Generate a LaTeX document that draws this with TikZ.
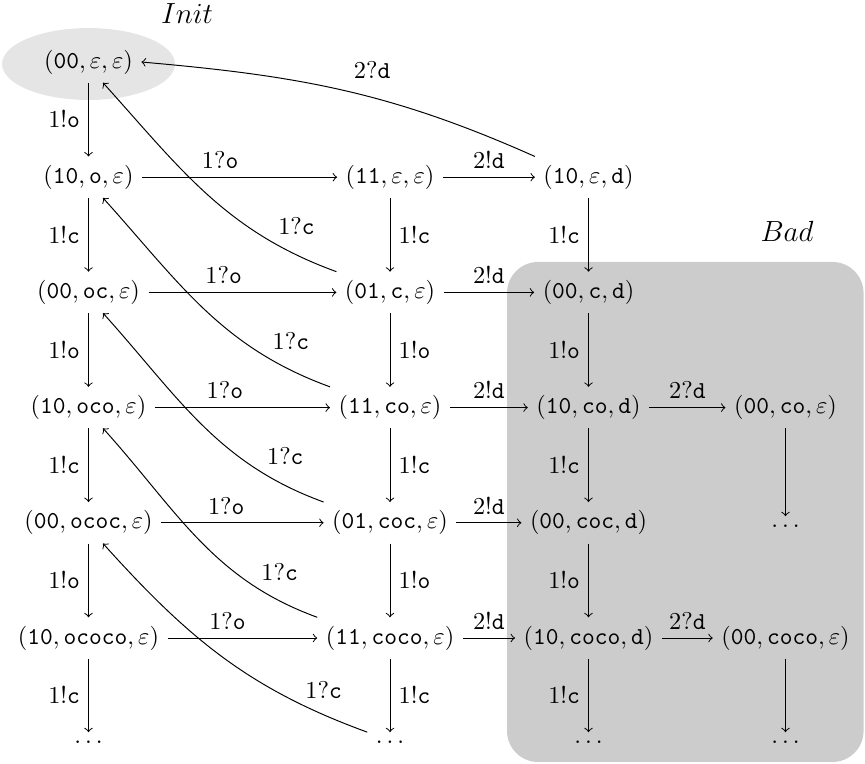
\documentclass[tikz,border=0pt]{standalone}
\usepackage{amsmath}
\usepackage{tikz}

\begin{document}
\begin{tikzpicture}

\useasboundingbox (0,0) rectangle (12.511,11.050);

% Draw Init and Bad regions

\fill[black!10] (1.280,10.124) ellipse (1.25 and 0.52);

\fill[black!20, rounded corners=0.45cm] (7.333,0.029) rectangle (12.49,7.261);

\node (init) at (2.705,10.847) {\large $Init$};

\node (bad) at (11.383,7.709) {\large $Bad$};

% Draw States of first column

\node (a0) at (1.280,10.153) {$(\texttt{00},\varepsilon,\varepsilon)$};
\node (a1) at (1.280,8.487) {$(\texttt{10},\texttt{o},\varepsilon)$};
\node (a2) at (1.280,6.821) {$(\texttt{00},\texttt{oc},\varepsilon)$};
\node (a3) at (1.280,5.155) {$(\texttt{10},\texttt{oco},\varepsilon)$};
\node (a4) at (1.280,3.489) {$(\texttt{00},\texttt{ococ},\varepsilon)$};
\node (a5) at (1.280,1.822) {$(\texttt{10},\texttt{ococo},\varepsilon)$};
\node (a6) at (1.280,0.318) {$\ldots$};

% Draw States of second column

\node (b1) at (5.641,8.487) {$(\texttt{11},\varepsilon,\varepsilon)$};
\node (b2) at (5.641,6.821) {$(\texttt{01},\texttt{c},\varepsilon)$};
\node (b3) at (5.641,5.155) {$(\texttt{11},\texttt{co},\varepsilon)$};
\node (b4) at (5.641,3.489) {$(\texttt{01},\texttt{coc},\varepsilon)$};
\node (b5) at (5.641,1.822) {$(\texttt{11},\texttt{coco},\varepsilon)$};
\node (b6) at (5.641,0.318) {$\ldots$};

% Draw States of third column

\node (c1) at (8.512,8.487) {$(\texttt{10},\varepsilon,\texttt{d})$};
\node (c2) at (8.512,6.821) {$(\texttt{00},\texttt{c},\texttt{d})$};
\node (c3) at (8.512,5.155) {$(\texttt{10},\texttt{co},\texttt{d})$};
\node (c4) at (8.512,3.489) {$(\texttt{00},\texttt{coc},\texttt{d})$};
\node (c5) at (8.512,1.822) {$(\texttt{10},\texttt{coco},\texttt{d})$};
\node (c6) at (8.512,0.318) {$\ldots$};

% Draw States of fourth column

\node (d3) at (11.361,5.155) {$(\texttt{00},\texttt{co},\varepsilon)$};
\node (d4) at (11.361,3.442) {$\ldots$};
\node (d5) at (11.361,1.822) {$(\texttt{00},\texttt{coco},\varepsilon)$};
\node (d6) at (11.361,0.318) {$\ldots$};

% Draw Transitions of first column

\draw[->] (a0) -- (a1) node[midway, left] {$1!\texttt{o}$};
\draw[->] (a1) -- (a2) node[midway, left] {$1!\texttt{c}$};
\draw[->] (a2) -- (a3) node[midway, left] {$1!\texttt{o}$};
\draw[->] (a3) -- (a4) node[midway, left] {$1!\texttt{c}$};
\draw[->] (a4) -- (a5) node[midway, left] {$1!\texttt{o}$};
\draw[->] (a5) -- (a6) node[midway, left] {$1!\texttt{c}$};

% Draw Transitions of second column

\draw[->] (b1) -- (b2) node[midway, right] {$1!\texttt{c}$};
\draw[->] (b2) -- (b3) node[midway, right] {$1!\texttt{o}$};
\draw[->] (b3) -- (b4) node[midway, right] {$1!\texttt{c}$};
\draw[->] (b4) -- (b5) node[midway, right] {$1!\texttt{o}$};
\draw[->] (b5) -- (b6) node[midway, right] {$1!\texttt{c}$};

% Draw Transitions of third and fourth column

\draw[->] (c1) -- (c2) node[midway, left] {$1!\texttt{c}$};
\draw[->] (c2) -- (c3) node[midway, left] {$1!\texttt{o}$};
\draw[->] (c3) -- (c4) node[midway, left] {$1!\texttt{c}$};
\draw[->] (c4) -- (c5) node[midway, left] {$1!\texttt{o}$};
\draw[->] (c5) -- (c6) node[midway, left] {$1!\texttt{c}$};

\draw[->] (d3) -- (d4);
\draw[->] (d5) -- (d6);

% Draw Receive transitions 1?o

\draw[->] (a1) -- (b1) node[pos=0.4, above] {$1?\texttt{o}$};
\draw[->] (a2) -- (b2) node[pos=0.4, above] {$1?\texttt{o}$};
\draw[->] (a3) -- (b3) node[pos=0.4, above] {$1?\texttt{o}$};
\draw[->] (a4) -- (b4) node[pos=0.4, above] {$1?\texttt{o}$};
\draw[->] (a5) -- (b5) node[pos=0.4, above] {$1?\texttt{o}$};

% Draw Send transitions 2!d

\draw[->] (b1) -- (c1) node[midway, above] {$2!\texttt{d}$};
\draw[->] (b2) -- (c2) node[midway, above] {$2!\texttt{d}$};
\draw[->] (b3) -- (c3) node[midway, above] {$2!\texttt{d}$};
\draw[->] (b4) -- (c4) node[midway, above] {$2!\texttt{d}$};
\draw[->] (b5) -- (c5) node[midway, above] {$2!\texttt{d}$};

% Draw Receive transitions 2?d

\draw[->] (c3) -- (d3) node[midway, above] {$2?\texttt{d}$};
\draw[->] (c5) -- (d5) node[midway, above] {$2?\texttt{d}$};

\draw[->] (c1.north west) to[out=156, in=-5] node[pos=0.42, above=4pt] {$2?\texttt{d}$} (a0.east);

% Draw Receive transitions 1?c

\draw[->] (b2.north west) to[out=160, in=-48] node[pos=0.13, above=5pt] {$1?\texttt{c}$} (a0.-55);
\draw[->] (b3.north west) to[out=160, in=-48] node[pos=0.13, above=5pt] {$1?\texttt{c}$} (a1.-55);
\draw[->] (b4.north west) to[out=160, in=-48] node[pos=0.13, above=5pt] {$1?\texttt{c}$} (a2.-55);
\draw[->] (b5.north west) to[out=160, in=-48] node[pos=0.13, above=5pt] {$1?\texttt{c}$} (a3.-55);
\draw[->] (b6.north west) to[out=160, in=-48] node[pos=0.13, above=3pt] {$1?\texttt{c}$} (a4.-55);

\end{tikzpicture}
\end{document}
